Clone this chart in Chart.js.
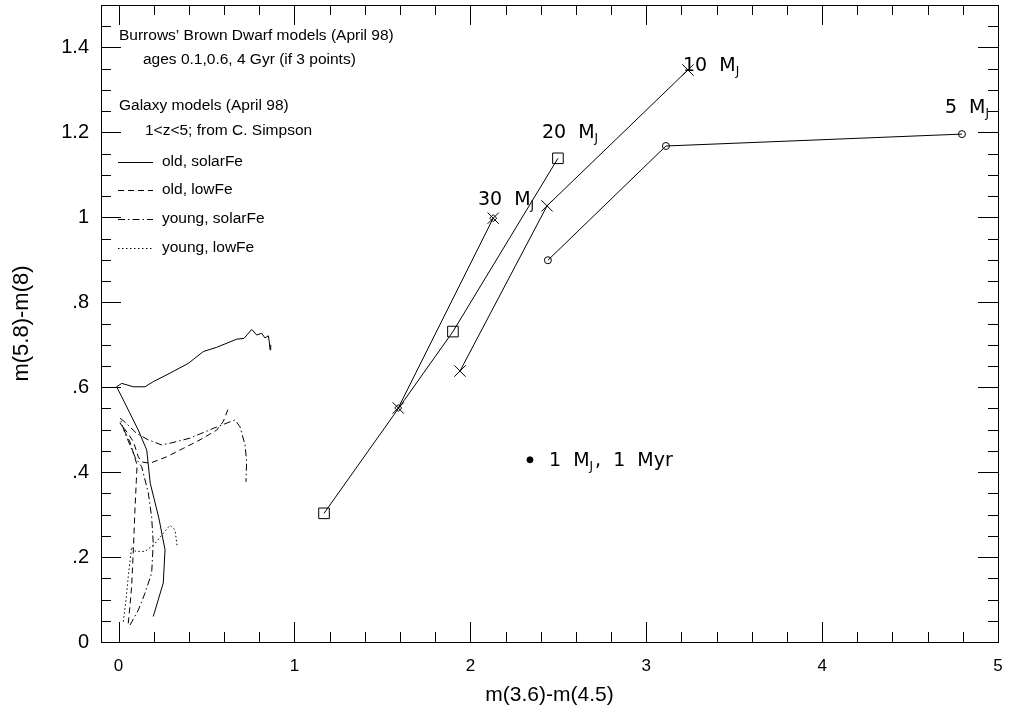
<!DOCTYPE html>
<html><head><meta charset="utf-8">
<script src="https://cdn.jsdelivr.net/npm/chart.js@4.4.1/dist/chart.umd.min.js"></script>
<style>html,body{margin:0;padding:0;background:#fff}#wrap{width:1013px;height:708px;position:relative}</style>
</head><body><div id="wrap"><canvas id="c"></canvas></div>
<script>
// ---- Brown dwarf tracks (Burrows models) ----
const bd30_x = [1.59, 2.13];
const bd30_y = [0.551, 0.998];
const bd20_x = [1.168, 1.901, 2.498];
const bd20_y = [0.303, 0.731, 1.139];
const bd10_x = [1.941, 2.436, 3.237];
const bd10_y = [0.638, 1.027, 1.347];
const bd5_x = [2.441, 3.112, 4.795];
const bd5_y = [0.899, 1.168, 1.196];
const bd1_x = [2.339];
const bd1_y = [0.429];

// ---- Galaxy tracks (C. Simpson) ----
const oldSolar_x = [0.197,0.254,0.264,0.230,0.180,0.160,0.112,0.027,-0.011,0.018,0.084,0.150,0.197,0.292,0.396,0.482,0.558,0.671,0.713,0.757,0.785,0.814,0.832,0.851,0.857,0.861,0.865];
const oldSolar_y = [0.060,0.139,0.217,0.290,0.374,0.452,0.499,0.570,0.601,0.609,0.601,0.601,0.613,0.633,0.656,0.684,0.694,0.713,0.715,0.736,0.723,0.727,0.716,0.721,0.707,0.688,0.700];
const oldLow_x = [0.055,0.065,0.074,0.084,0.093,0.101,0.105,0.065,0.019,0.008,0.048,0.084,0.112,0.131,0.179,0.273,0.368,0.463,0.558,0.595,0.624];
const oldLow_y = [0.044,0.087,0.130,0.217,0.311,0.381,0.417,0.471,0.509,0.516,0.494,0.472,0.436,0.424,0.421,0.436,0.456,0.476,0.499,0.519,0.550];
const youngSolar_x = [0.065,0.112,0.150,0.188,0.197,0.188,0.169,0.131,0.093,0.036,0.008,0.036,0.103,0.169,0.245,0.302,0.406,0.538,0.662,0.690,0.719,0.728,0.724];
const youngSolar_y = [0.040,0.075,0.115,0.162,0.233,0.294,0.351,0.413,0.436,0.492,0.527,0.518,0.491,0.476,0.464,0.469,0.480,0.503,0.523,0.507,0.464,0.425,0.377];
const youngLow_x = [0.027,0.042,0.055,0.074,0.093,0.150,0.207,0.254,0.292,0.321,0.332];
const youngLow_y = [0.048,0.099,0.154,0.224,0.214,0.213,0.232,0.256,0.275,0.264,0.228];

// ---- Axis ticks ----
const xMajorTicks = [0, 1, 2, 3, 4, 5];
const xTickLabels = ['0', '1', '2', '3', '4', '5'];
const yMajorTicks = [0, 0.2, 0.4, 0.6, 0.8, 1.0, 1.2, 1.4];
const yTickLabels = ['0', '.2', '.4', '.6', '.8', '1', '1.2', '1.4'];
const xMinorStep = 0.2, yMinorStep = 0.05;

// ---- Text ----
const legendHeader = ['Burrows\u2019 Brown Dwarf models (April 98)', 'ages 0.1,0.6, 4 Gyr (if 3 points)', 'Galaxy models (April 98)', '1<z<5; from C. Simpson'];
const seriesNames = ['old, solarFe', 'old, lowFe', 'young, solarFe', 'young, lowFe'];
const massLabels = [
  {pre: '30  M', post: '', ax: 2.043, ay: 1.041},
  {pre: '20  M', post: '', ax: 2.407, ay: 1.198},
  {pre: '10  M', post: '', ax: 3.209, ay: 1.356},
  {pre: '5  M',  post: '', ax: 4.698, ay: 1.257},
  {pre: '1  M',  post: ',  1  Myr', ax: 2.447, ay: 0.426}
];

const zip = (xs, ys) => xs.map((v, i) => ({x: v, y: ys[i]}));
const DASHES = [[], [6, 4], [7, 3, 1.5, 3], [1.5, 2.5]];
function rangeTicks(max, step) { const out = []; for (let i = 0; i * step <= max + 1e-9; i++) out.push(Math.round(i * step * 1000) / 1000); return out; }
const xTickValues = rangeTicks(5, xMinorStep);
const yTickValues = rangeTicks(1.5, yMinorStep);
function majorIndex(v, arr) { return arr.findIndex(m => Math.abs(m - v) < 1e-6); }

const galaxy = [[oldSolar_x, oldSolar_y], [oldLow_x, oldLow_y], [youngSolar_x, youngSolar_y], [youngLow_x, youngLow_y]].map((s, i) => ({
  data: zip(s[0], s[1]), showLine: true, borderColor: '#000', borderWidth: 1, borderDash: DASHES[i], pointRadius: 0, tension: 0
}));
const bdBase = {showLine: true, borderColor: '#000', borderWidth: 1, pointBorderColor: '#000', pointBackgroundColor: 'rgba(0,0,0,0)', pointBorderWidth: 1, tension: 0};
const datasets = galaxy.concat([
  Object.assign({}, bdBase, {data: zip(bd20_x, bd20_y), pointStyle: 'rect', pointRadius: 7.5}),
  Object.assign({}, bdBase, {data: zip(bd30_x, bd30_y), pointStyle: 'crossRot', pointRadius: 8}),
  Object.assign({}, bdBase, {data: zip(bd30_x, bd30_y), showLine: false, pointStyle: 'rectRot', pointRadius: 3.5}),
  Object.assign({}, bdBase, {data: zip(bd10_x, bd10_y), pointStyle: 'crossRot', pointRadius: 8}),
  Object.assign({}, bdBase, {data: zip(bd5_x, bd5_y), pointStyle: 'circle', pointRadius: 3.5}),
  {data: zip(bd1_x, bd1_y), showLine: false, pointStyle: 'circle', pointRadius: 3, pointBackgroundColor: '#000', pointBorderColor: '#000'}
]);

const decor = {
  id: 'decor',
  afterDraw(chart) {
    const {ctx, chartArea: a, scales: {x, y}} = chart;
    ctx.save();
    ctx.strokeStyle = '#000'; ctx.fillStyle = '#000'; ctx.lineWidth = 1;
    const L = (x1, y1, x2, y2) => { ctx.beginPath(); ctx.moveTo(x1, y1); ctx.lineTo(x2, y2); ctx.stroke(); };
    ctx.strokeRect(Math.round(a.left) + 0.5, Math.round(a.top) + 0.5, Math.round(a.right - a.left), Math.round(a.bottom - a.top));
    x.ticks.forEach(t => {
      const px = Math.round(x.getPixelForValue(t.value)) + 0.5;
      const len = majorIndex(t.value, xMajorTicks) >= 0 ? 20 : 10;
      L(px, a.bottom, px, a.bottom - len); L(px, a.top, px, a.top + len);
    });
    y.ticks.forEach(t => {
      const py = Math.round(y.getPixelForValue(t.value)) + 0.5;
      const len = majorIndex(t.value, yMajorTicks) >= 0 ? 20 : 10;
      L(a.left, py, a.left + len, py); L(a.right, py, a.right - len, py);
    });
    // legend
    ctx.font = '15.5px "Liberation Sans", Arial, sans-serif';
    ctx.textBaseline = 'middle'; ctx.textAlign = 'left';
    const hx = [119, 143, 119, 145], hy = [36, 60, 106, 131];
    legendHeader.forEach((s, i) => ctx.fillText(s, hx[i], hy[i]));
    const ly = [162, 190, 219, 248];
    seriesNames.forEach((s, i) => {
      ctx.setLineDash(DASHES[i]);
      L(118, ly[i] + 0.5, 153, ly[i] + 0.5);
      ctx.setLineDash([]);
      ctx.fillText(s, 162, ly[i]);
    });
    // mass labels
    massLabels.forEach(m => {
      const px = x.getPixelForValue(m.ax), py = y.getPixelForValue(m.ay);
      ctx.font = '19px "DejaVu Sans", sans-serif';
      ctx.fillText(m.pre, px, py);
      let w = ctx.measureText(m.pre).width;
      ctx.font = '12px "DejaVu Sans", sans-serif';
      ctx.fillText('J', px + w, py + 6);
      w += ctx.measureText('J').width;
      if (m.post) { ctx.font = '19px "DejaVu Sans", sans-serif'; ctx.fillText(m.post, px + w + 2, py); }
    });
    ctx.restore();
  }
};

new Chart(document.getElementById('c'), {
  type: 'scatter',
  data: {datasets},
  plugins: [decor],
  options: {
    responsive: true, maintainAspectRatio: false, animation: false, devicePixelRatio: 1,
    layout: {autoPadding: false, padding: {top: 5, right: 15, left: 0, bottom: 0}},
    plugins: {legend: {display: false}, tooltip: {enabled: false}},
    scales: {
      x: {
        type: 'linear', min: -0.1, max: 5,
        afterBuildTicks: s => { s.ticks = xTickValues.map(v => ({value: v})); },
        afterFit: s => { s.height = 66; s.paddingLeft = 0; s.paddingRight = 0; s.paddingTop = 0; s.paddingBottom = 0; },
        grid: {display: false, drawTicks: false}, border: {display: false},
        ticks: {autoSkip: false, maxRotation: 0, padding: 14, color: '#000', font: {family: '"Liberation Sans", Arial, sans-serif', size: 17},
          callback: v => { const i = majorIndex(v, xMajorTicks); return i >= 0 ? xTickLabels[i] : ''; }},
        title: {display: true, text: 'm(3.6)-m(4.5)', color: '#000', font: {family: '"Liberation Sans", Arial, sans-serif', size: 21}, padding: {top: 0, bottom: 0}}
      },
      y: {
        type: 'linear', min: 0, max: 1.5,
        afterBuildTicks: s => { s.ticks = yTickValues.map(v => ({value: v})); },
        afterFit: s => { s.width = 101; s.paddingLeft = 0; s.paddingRight = 0; s.paddingTop = 0; s.paddingBottom = 0; },
        grid: {display: false, drawTicks: false}, border: {display: false},
        ticks: {autoSkip: false, padding: 12, color: '#000', font: {family: '"Liberation Sans", Arial, sans-serif', size: 20},
          callback: v => { const i = majorIndex(v, yMajorTicks); return i >= 0 ? yTickLabels[i] : ''; }},
        title: {display: true, text: 'm(5.8)-m(8)', color: '#000', font: {family: '"Liberation Sans", Arial, sans-serif', size: 22}, padding: {top: 9, bottom: 0}}
      }
    }
  }
});
</script></body></html>
